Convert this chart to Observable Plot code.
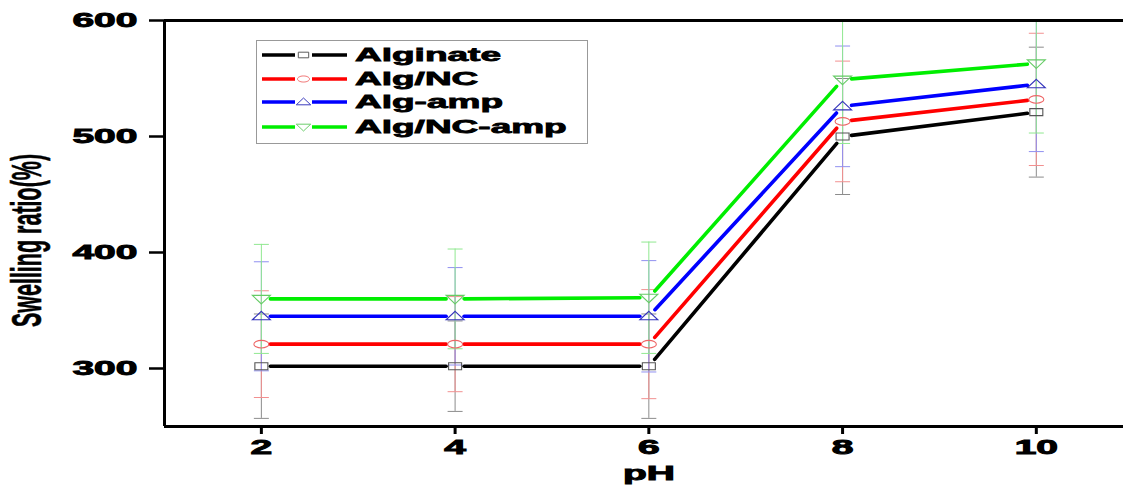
<!DOCTYPE html>
<html><head><meta charset="utf-8">
<script src="https://cdn.jsdelivr.net/npm/d3@7"></script>
<script src="https://cdn.jsdelivr.net/npm/@observablehq/plot@0.6"></script>
<style>
body{margin:0;background:#fff;}
#wrap{position:relative;width:1123px;height:487px;overflow:hidden;}
#legend{position:absolute;left:256px;top:40px;}
</style></head><body><div id="wrap"></div>
<script>
// ---- data ----
const pH = [2, 4, 6, 8, 10];
const seriesNames = ["Alginate", "Alg/NC", "Alg-amp", "Alg/NC-amp"];
const alginate  = [302, 302, 302, 500, 521];
const algNC     = [321, 321, 321, 513, 532];
const algAmp    = [345, 345, 345, 526, 545];
const algNCAmp  = [360, 360, 361, 549, 563];
const errAlginate = [45, 39, 45, 50, 56];
const errAlgNC    = [46, 41, 47, 52, 57];
const errAlgAmp   = [47, 42, 48, 52, 58];
const errAlgNCAmp = [47, 43, 48, 55, 60];
const yTicks = [300, 400, 500, 600];
const xTicks = [2, 4, 6, 8, 10];
const xDomain = [1, 10.9];
const yDomain = [250, 600];
const lineColors = ["#000000", "#ff0000", "#0000ff", "#00ee00"];
const markerColors = ["#555555", "#ee6666", "#3333bb", "#66cc66"];
const errColors = ["#8c8c8c", "#f29090", "#9090f0", "#90e890"];

// ---- symbols (open markers) ----
const sym = {
  square: {draw(c){c.moveTo(-6.5,-3.5);c.lineTo(6.5,-3.5);c.lineTo(6.5,3.5);c.lineTo(-6.5,3.5);c.closePath();}},
  ellipse: {draw(c){const rx=7.5, ry=3.8, k=0.5523;
    c.moveTo(rx,0); c.bezierCurveTo(rx,ry*k,rx*k,ry,0,ry); c.bezierCurveTo(-rx*k,ry,-rx,ry*k,-rx,0);
    c.bezierCurveTo(-rx,-ry*k,-rx*k,-ry,0,-ry); c.bezierCurveTo(rx*k,-ry,rx,-ry*k,rx,0); c.closePath();}},
  up: {draw(c){c.moveTo(0,-5);c.lineTo(9,3.5);c.lineTo(-9,3.5);c.closePath();}},
  down: {draw(c){c.moveTo(0,5);c.lineTo(9,-3.5);c.lineTo(-9,-3.5);c.closePath();}},
  cap: {draw(c){c.moveTo(-7.5,0);c.lineTo(7.5,0);}}
};
const seriesSymbols = [sym.square, sym.ellipse, sym.up, sym.down];

const vals = [alginate, algNC, algAmp, algNCAmp];
const errs = [errAlginate, errAlgNC, errAlgAmp, errAlgNCAmp];
const rows = seriesNames.flatMap((s, i) => pH.map((p, j) => ({series: s, idx: i, ph: p, v: vals[i][j], e: errs[i][j]})));
const segs = seriesNames.flatMap((s, i) => pH.slice(1).map((p, j) => ({idx: i, x1: pH[j], y1: vals[i][j], x2: p, y2: vals[i][j + 1]})));

const marks = [];
// error bars
seriesNames.forEach((s, i) => {
  const d = rows.filter(r => r.idx === i);
  marks.push(Plot.ruleX(d, {x: "ph", y1: r => r.v - r.e, y2: r => r.v + r.e, stroke: errColors[i], strokeWidth: 1, clip: true}));
  marks.push(Plot.dot(d, {x: "ph", y: r => r.v - r.e, symbol: sym.cap, fill: "none", stroke: errColors[i], strokeWidth: 1, clip: true}));
  marks.push(Plot.dot(d, {x: "ph", y: r => r.v + r.e, symbol: sym.cap, fill: "none", stroke: errColors[i], strokeWidth: 1, clip: true}));
});
// lines
seriesNames.forEach((s, i) => {
  marks.push(Plot.arrow(segs.filter(r => r.idx === i), {x1: "x1", y1: "y1", x2: "x2", y2: "y2", stroke: lineColors[i], strokeWidth: 3.6, headLength: 0, insetStart: 9, insetEnd: 9}));
});
// markers
seriesNames.forEach((s, i) => {
  marks.push(Plot.dot(rows.filter(r => r.idx === i), {x: "ph", y: "v", symbol: seriesSymbols[i], fill: "none", stroke: markerColors[i], strokeWidth: 1.1}));
});
// frame lines
marks.push(Plot.ruleX([xDomain[0]], {stroke: "#000", strokeWidth: 3}));
marks.push(Plot.ruleY(yDomain, {stroke: "#000", strokeWidth: 3}));
// axes
marks.push(Plot.axisY({ticks: yTicks, tickSize: 15, tickPadding: 12, strokeWidth: 2.5, label: null, fontSize: 19.5, fontWeight: "bold"}));
marks.push(Plot.axisX({ticks: xTicks, tickSize: 8, tickPadding: 6, strokeWidth: 3, label: null, fontSize: 19.5, fontWeight: "bold"}));
// axis titles
marks.push(Plot.text(["Swelling ratio(%)"], {frameAnchor: "left", rotate: -90, textAnchor: "middle", dx: -137, dy: 17, fontSize: 21.5, fontWeight: "bold", fill: "#000"}));
marks.push(Plot.text(["pH"], {frameAnchor: "bottom", textAnchor: "middle", dx: 5, dy: 53, fontSize: 19.5, fontWeight: "bold", fill: "#000"}));

const svg = Plot.plot({
  width: 1123, height: 487,
  marginLeft: 164, marginRight: 0, marginTop: 20, marginBottom: 61,
  x: {domain: xDomain},
  y: {domain: yDomain},
  style: {fontFamily: "'Liberation Sans', Arial, sans-serif", color: "#000", background: "#fff", overflow: "visible"},
  marks
});

// horizontal stretch of text (reference is stretched ~2x horizontally)
d3.select(svg).selectAll("text").each(function() {
  const t = this.getAttribute("transform");
  const rot = t && t.includes("rotate");
  const sc = rot ? " scale(1,2)" : " scale(2,1)";
  if (t) this.setAttribute("transform", t + sc);
  else {
    const x = this.getAttribute("x") || 0, y = this.getAttribute("y") || 0;
    this.removeAttribute("x"); this.removeAttribute("y");
    this.setAttribute("transform", `translate(${x},${y})${sc}`);
  }
  this.style.stroke = "#000";
  this.style.strokeWidth = rot ? "0.3" : "0.9";
});
document.getElementById("wrap").appendChild(svg);

// ---- legend ----
const lg = d3.select("#wrap").append("svg").attr("id", "legend").attr("width", 333).attr("height", 105);
lg.append("rect").attr("x", 0.5).attr("y", 0.5).attr("width", 331).attr("height", 103).attr("fill", "#fff").attr("stroke", "#999").attr("stroke-width", 1);
const rowY = [15, 39, 62, 87];
seriesNames.forEach((s, i) => {
  const g = lg.append("g").attr("transform", `translate(0,${rowY[i]})`);
  g.append("line").attr("x1", 6).attr("x2", 39).attr("stroke", lineColors[i]).attr("stroke-width", 3.6);
  g.append("line").attr("x1", 56).attr("x2", 91).attr("stroke", lineColors[i]).attr("stroke-width", 3.6);
  const p = d3.path(); seriesSymbols[i].draw(p, 0);
  g.append("path").attr("d", p.toString()).attr("transform", "translate(47.5,0) scale(0.8)").attr("fill", "none").attr("stroke", markerColors[i]).attr("stroke-width", 1.2);
  g.append("text").attr("transform", "translate(99,0) scale(2,1)").attr("dy", "0.35em")
    .attr("font-family", "'Liberation Sans', Arial, sans-serif").attr("font-weight", "bold").attr("font-size", 18.5)
    .attr("stroke", "#000").attr("stroke-width", 0.8).text(s);
});
</script></body></html>
